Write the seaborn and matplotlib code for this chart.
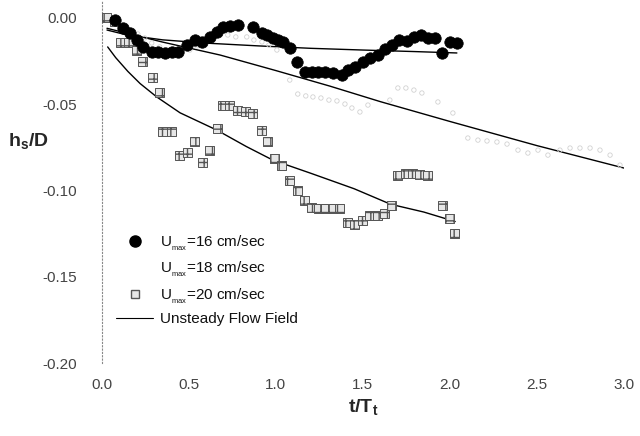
import numpy as np
import pandas as pd
import matplotlib
matplotlib.use("Agg")
import matplotlib.pyplot as plt
import seaborn as sns
from matplotlib.lines import Line2D

# Measured scour depth h_s/D against t/T_t for three peak velocities
t16 = [0.075, 0.121, 0.161, 0.201, 0.236, 0.287, 0.322, 0.362, 0.402, 0.437,
       0.489, 0.534, 0.575, 0.621, 0.661, 0.695, 0.736, 0.782, 0.868, 0.920,
       0.948, 0.983, 1.011, 1.040, 1.080, 1.121, 1.167, 1.207, 1.241, 1.282,
       1.328, 1.379, 1.414, 1.454, 1.500, 1.540, 1.586, 1.626, 1.667, 1.707,
       1.753, 1.793, 1.833, 1.874, 1.914, 1.954, 2.000, 2.040]
h16 = [-0.0012, -0.0058, -0.0087, -0.0128, -0.0168, -0.0197, -0.0197, -0.0203,
       -0.0197, -0.0197, -0.0157, -0.0128, -0.0139, -0.0110, -0.0081, -0.0052,
       -0.0046, -0.0041, -0.0052, -0.0087, -0.0099, -0.0116, -0.0128, -0.0139,
       -0.0174, -0.0255, -0.0313, -0.0313, -0.0313, -0.0313, -0.0319, -0.0331,
       -0.0302, -0.0284, -0.0255, -0.0232, -0.0215, -0.0180, -0.0157, -0.0128,
       -0.0133, -0.0110, -0.0099, -0.0116, -0.0116, -0.0203, -0.0139, -0.0145]

t18 = [0.034, 0.080, 0.121, 0.161, 0.207, 0.247, 0.287, 0.333, 0.374, 0.420,
       0.460, 0.506, 0.546, 0.592, 0.632, 0.678, 0.724, 0.770, 0.833, 0.874,
       0.920, 0.960, 1.006, 1.080, 1.126, 1.172, 1.213, 1.259, 1.305, 1.351,
       1.397, 1.437, 1.483, 1.529, 1.655, 1.701, 1.747, 1.793, 1.839, 1.931,
       2.017, 2.103, 2.161, 2.213, 2.270, 2.328, 2.391, 2.448, 2.506, 2.563,
       2.632, 2.690, 2.747, 2.805, 2.862, 2.920, 2.977]
h18 = [-0.0006, -0.0023, -0.0046, -0.0070, -0.0093, -0.0116, -0.0145, -0.0168,
       -0.0186, -0.0197, -0.0197, -0.0186, -0.0162, -0.0133, -0.0104, -0.0087,
       -0.0099, -0.0110, -0.0110, -0.0128, -0.0139, -0.0157, -0.0186, -0.0360,
       -0.0441, -0.0452, -0.0458, -0.0464, -0.0476, -0.0481, -0.0499, -0.0522,
       -0.0545, -0.0505, -0.0476, -0.0406, -0.0406, -0.0418, -0.0435, -0.0487,
       -0.0551, -0.0696, -0.0708, -0.0713, -0.0719, -0.0731, -0.0766, -0.0783,
       -0.0766, -0.0795, -0.0766, -0.0754, -0.0754, -0.0754, -0.0766, -0.0795,
       -0.0853]

t20 = [0.029, 0.075, 0.109, 0.155, 0.201, 0.236, 0.293, 0.333, 0.351, 0.402,
       0.448, 0.494, 0.534, 0.580, 0.621, 0.667, 0.695, 0.736, 0.782, 0.828,
       0.868, 0.920, 0.954, 0.994, 1.034, 1.080, 1.126, 1.167, 1.207, 1.247,
       1.287, 1.328, 1.368, 1.414, 1.454, 1.500, 1.540, 1.586, 1.626, 1.667,
       1.701, 1.747, 1.787, 1.828, 1.874, 1.960, 2.000, 2.029]
h20 = [0.0000, -0.0023, -0.0145, -0.0145, -0.0186, -0.0255, -0.0348, -0.0435,
       -0.0661, -0.0661, -0.0795, -0.0777, -0.0719, -0.0835, -0.0766, -0.0638,
       -0.0505, -0.0510, -0.0534, -0.0545, -0.0551, -0.0650, -0.0719, -0.0812,
       -0.0853, -0.0940, -0.0998, -0.1056, -0.1096, -0.1102, -0.1102, -0.1102,
       -0.1102, -0.1183, -0.1195, -0.1172, -0.1143, -0.1143, -0.1131, -0.1085,
       -0.0911, -0.0899, -0.0899, -0.0905, -0.0911, -0.1085, -0.1160, -0.1247]

# Unsteady flow field predictions, one curve per velocity
fit16_t = [0.03, 0.15, 0.35, 0.6, 0.9, 1.2, 1.5, 1.8, 2.04]
fit16_h = [-0.0070, -0.0100, -0.0127, -0.0146, -0.0162, -0.0176, -0.0186, -0.0195, -0.0203]
fit18_t = [0.03, 0.15, 0.35, 0.68, 1.0, 1.31, 1.6, 2.0, 2.5, 3.0]
fit18_h = [-0.0060, -0.0090, -0.0140, -0.0215, -0.0305, -0.0395, -0.0485, -0.0600, -0.0740, -0.0870]
fit20_t = [0.034, 0.08, 0.15, 0.22, 0.316, 0.45, 0.661, 0.83, 0.983, 1.2, 1.45, 1.66, 1.85, 2.03]
fit20_h = [-0.0168, -0.0230, -0.0310, -0.0380, -0.0458, -0.0550, -0.0650, -0.0745, -0.0824,
           -0.0900, -0.0990, -0.1080, -0.1125, -0.1180]

legend_labels = ["U$_{_{\\mathregular{max}}}$=16 cm/sec", "U$_{_{\\mathregular{max}}}$=18 cm/sec",
                 "U$_{_{\\mathregular{max}}}$=20 cm/sec", "Unsteady Flow Field"]

sns.set_theme(style="white")
plt.rcParams['font.family'] = ['Liberation Sans', 'DejaVu Sans']
plt.rcParams['mathtext.fontset'] = 'custom'
plt.rcParams['mathtext.rm'] = 'Liberation Sans'
plt.rcParams['mathtext.bf'] = 'Liberation Sans:bold'

fig = plt.figure(figsize=(6.4, 4.36), dpi=100)
ax = fig.add_axes([0.159, 0.1674, 0.816, 0.8326])

d16 = pd.DataFrame({"t": t16, "h": h16})
d18 = pd.DataFrame({"t": t18, "h": h18})
d20 = pd.DataFrame({"t": t20, "h": h20})

for ft, fh in [(fit16_t, fit16_h), (fit18_t, fit18_h), (fit20_t, fit20_h)]:
    sns.lineplot(x=ft, y=fh, ax=ax, color="black", lw=1.0, sort=False,
                 estimator=None, zorder=2)

sns.scatterplot(data=d18, x="t", y="h", ax=ax, marker="o", s=10,
                facecolor="none", edgecolor="#d2d2d2", linewidth=0.6, zorder=3)
sns.scatterplot(data=d20, x="t", y="h", ax=ax, marker="s", s=42,
                facecolor="#e6e6e6", edgecolor="#555555", linewidth=0.7,
                hatch="++", zorder=4)
sns.scatterplot(data=d16, x="t", y="h", ax=ax, marker="o", s=68,
                color="black", edgecolor="black", linewidth=0.5, zorder=5)

ax.set_xlim(0, 3.0)
ax.set_ylim(-0.20, 0.0104)
ax.set_xticks([0.0, 0.5, 1.0, 1.5, 2.0, 2.5, 3.0])
ax.set_yticks([0.00, -0.05, -0.10, -0.15, -0.20])
ax.set_xticklabels(["0.0", "0.5", "1.0", "1.5", "2.0", "2.5", "3.0"])
ax.set_yticklabels(["0.00", "-0.05", "-0.10", "-0.15", "-0.20"])
ax.tick_params(axis="both", length=0, labelsize=11, labelcolor="#444444")
ax.tick_params(axis="y", pad=18)
ax.tick_params(axis="x", pad=11)

for side in ["top", "right", "bottom"]:
    ax.spines[side].set_visible(False)
ax.spines["left"].set_linestyle((0, (1, 2)))
ax.spines["left"].set_color("#888888")
ax.spines["left"].set_linewidth(0.8)

ax.set_xlabel("t/T$_\\mathregular{t}$", fontsize=14, fontweight="bold", labelpad=4)
ax.set_ylabel("h$_\\mathregular{s}$/D", fontsize=14, fontweight="bold", rotation=0,
              va="center", ha="center")
ax.yaxis.set_label_coords(-0.14, 0.61)

handles = [
    Line2D([], [], marker="o", ls="none", color="black", markersize=8),
    Line2D([], [], marker="o", ls="none", markerfacecolor="none",
           markeredgecolor="white", markersize=5),
    Line2D([], [], marker="s", ls="none", markerfacecolor="#e6e6e6",
           markeredgecolor="#555555", markersize=6),
    Line2D([], [], color="black", lw=0.8),
]
leg = ax.legend(handles, legend_labels, loc="upper left",
                bbox_to_anchor=(0.016, 0.375), frameon=False, fontsize=11,
                handlelength=2.4, handletextpad=0.45, labelspacing=0.45,
                borderaxespad=0)
for txt in leg.get_texts():
    txt.set_color("#111111")

fig.savefig("out.png", dpi=100)
